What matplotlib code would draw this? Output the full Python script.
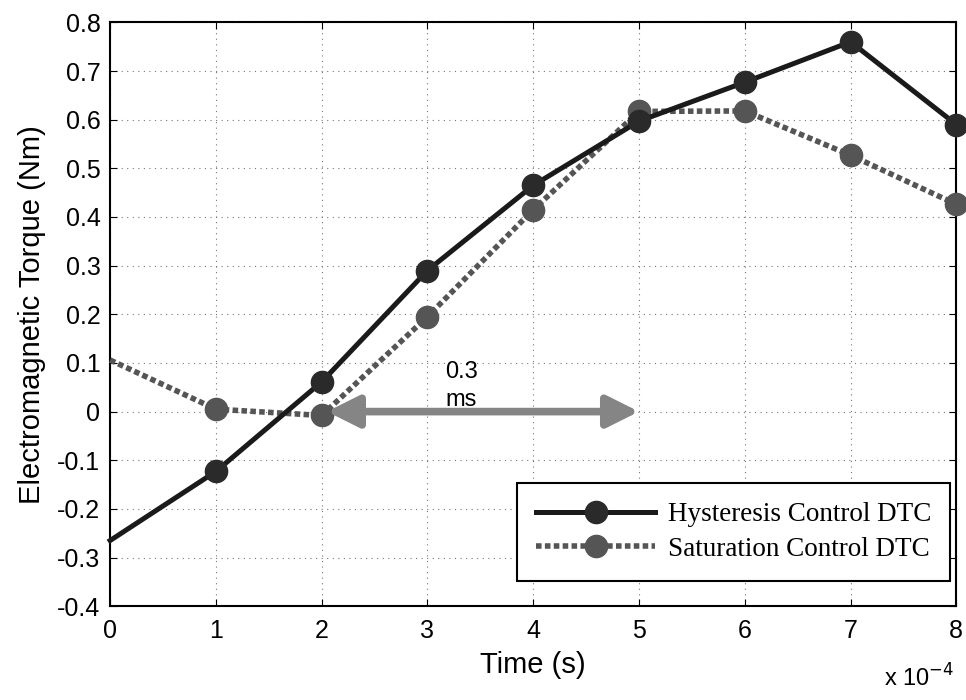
import numpy as np
import matplotlib.pyplot as plt

# time in units of 1e-4 s
t = [0, 1, 2, 3, 4, 5, 6, 7, 8]
hysteresis = [-0.265, -0.123, 0.061, 0.290, 0.465, 0.597, 0.677, 0.760, 0.590]
saturation = [0.106, 0.005, -0.008, 0.195, 0.415, 0.617, 0.618, 0.527, 0.426]

yticks = np.round(np.arange(-0.4, 0.81, 0.1), 1)
ytick_labels = ['0' if v == 0 else f'{v:g}' for v in yticks]

plt.rcParams['font.family'] = ['Liberation Sans', 'DejaVu Sans']

fig = plt.figure(figsize=(9.66, 7), dpi=100)
ax = fig.add_axes([0.114, 0.134, 0.876, 0.834])

ax.plot(t, hysteresis, color='#1a1a1a', lw=3.6, marker='o', ms=16,
        markevery=list(range(1, 9)), mfc='#2a2a2a', mec='#2a2a2a',
        label='Hysteresis Control DTC', clip_on=False, zorder=4)
ax.plot(t, saturation, color='#555555', lw=4, ls=(0, (1, 0.6)), marker='o', ms=16,
        markevery=list(range(1, 9)), mfc='#555555', mec='#555555',
        label='Saturation Control DTC', clip_on=False, zorder=3)

# 0.3 ms annotation
ax.annotate('', xy=(5.0, 0.0), xytext=(2.05, 0.0),
            arrowprops=dict(arrowstyle='<|-|>', color='#858585', lw=5.5,
                            mutation_scale=48, shrinkA=0, shrinkB=0), zorder=5)
ax.text(3.17, 0.082, '0.3', fontsize=17, va='center', ha='left', zorder=6)
ax.text(3.17, 0.024, 'ms', fontsize=17, va='center', ha='left', zorder=6)

ax.set_xlim(0, 8)
ax.set_ylim(-0.4, 0.8)
ax.set_xticks(t)
ax.set_yticks(yticks)
ax.set_yticklabels(ytick_labels)
ax.tick_params(labelsize=18, direction='in', length=5, top=True, right=True)
ax.tick_params(axis='x', pad=9)
ax.tick_params(axis='y', pad=7)
ax.grid(True, ls=(0, (1, 4)), color='#777777', lw=0.8)
for s in ax.spines.values():
    s.set_linewidth(1.5)

ax.set_xlabel('Time (s)', fontsize=21, labelpad=6)
ax.set_ylabel('Electromagnetic Torque (Nm)', fontsize=21, labelpad=8)
fig.text(0.988, 0.012, r'x 10$^{-4}$', fontsize=17, ha='right', va='bottom')

leg = ax.legend(loc='lower right', prop={'family': 'Liberation Serif', 'size': 19.5},
                fancybox=False, edgecolor='black', framealpha=1,
                handlelength=4.4, handletextpad=0.45, borderpad=0.72,
                labelspacing=0.35, borderaxespad=0,
                bbox_to_anchor=(0.993, 0.043))
leg.get_frame().set_linewidth(1.5)

fig.savefig('out.png', dpi=100)
